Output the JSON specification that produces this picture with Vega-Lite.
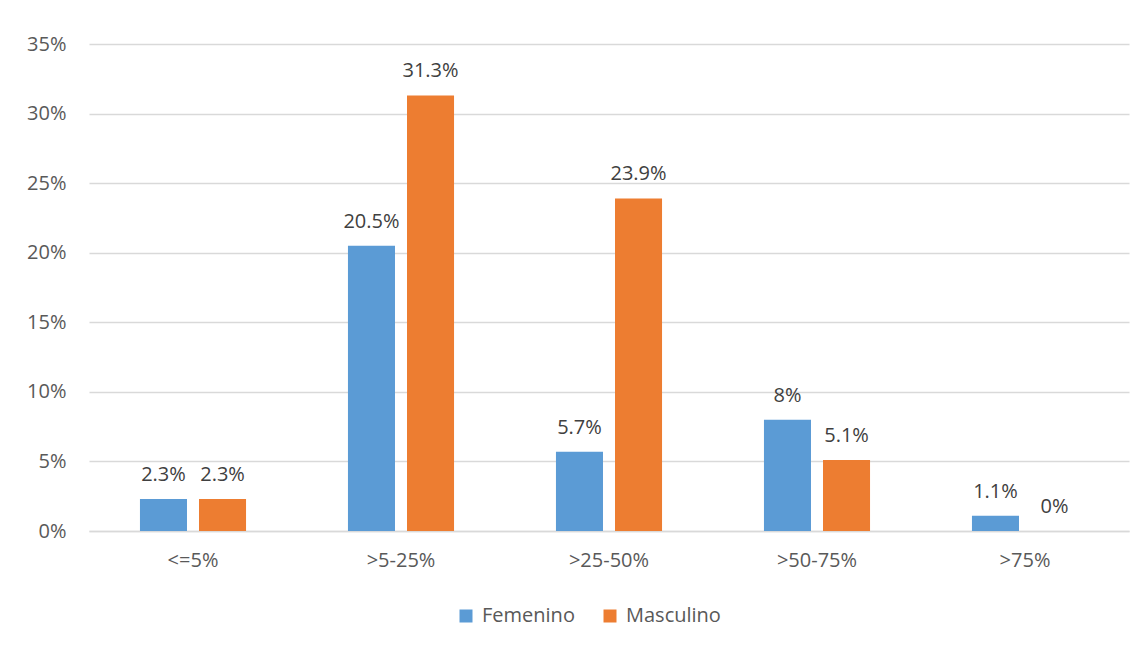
{
  "$schema": "https://vega.github.io/schema/vega-lite/v6.json",
  "autosize": {"type": "none"},
  "width": 1040,
  "height": 487,
  "padding": {"left": 89, "top": 44, "right": 15, "bottom": 115},
  "background": "white",
  "config": {
    "font": "Open Sans",
    "view": {"stroke": null},
    "axis": {"labelFont": "Open Sans", "labelFontSize": 20, "labelColor": "#595959", "ticks": false, "title": null},
    "legend": {"labelFont": "Open Sans", "labelFontSize": 20, "labelColor": "#595959"}
  },
  "data": {
    "values": [
      {"rango": "<=5%", "sexo": "Femenino", "valor": 0.023},
      {"rango": "<=5%", "sexo": "Masculino", "valor": 0.023},
      {"rango": ">5-25%", "sexo": "Femenino", "valor": 0.205},
      {"rango": ">5-25%", "sexo": "Masculino", "valor": 0.313},
      {"rango": ">25-50%", "sexo": "Femenino", "valor": 0.057},
      {"rango": ">25-50%", "sexo": "Masculino", "valor": 0.239},
      {"rango": ">50-75%", "sexo": "Femenino", "valor": 0.08},
      {"rango": ">50-75%", "sexo": "Masculino", "valor": 0.051},
      {"rango": ">75%", "sexo": "Femenino", "valor": 0.011},
      {"rango": ">75%", "sexo": "Masculino", "valor": 0.0}
    ]
  },
  "encoding": {
    "x": {
      "field": "rango", "type": "nominal", "sort": null,
      "scale": {"paddingInner": 0.49, "paddingOuter": 0.245},
      "axis": {"labelAngle": 0, "labelPadding": 19, "domainColor": "#D9D9D9", "domainWidth": 1.5, "grid": false}
    },
    "y": {
      "field": "valor", "type": "quantitative",
      "scale": {"domain": [0, 0.35], "nice": false},
      "axis": {"format": ".0%", "values": [0, 0.05, 0.1, 0.15, 0.2, 0.25, 0.3, 0.35], "domain": false, "gridColor": "#D9D9D9", "gridWidth": 1.5, "labelPadding": 23}
    }
  },
  "layer": [
    {
      "mark": {"type": "bar"},
      "encoding": {
        "xOffset": {"field": "sexo", "type": "nominal", "scale": {"paddingInner": 0.2034, "paddingOuter": 0}},
        "color": {
          "field": "sexo", "type": "nominal",
          "scale": {"domain": ["Femenino", "Masculino"], "range": ["#5B9BD5", "#ED7D31"]},
          "legend": {"orient": "none", "legendX": 367, "legendY": 562, "direction": "horizontal", "title": null, "symbolType": "square", "symbolSize": 169, "symbolStrokeWidth": 0, "columnPadding": 25, "labelOffset": 6}
        }
      }
    },
    {
      "mark": {"type": "text", "baseline": "alphabetic", "dy": -18, "fontSize": 20, "color": "#404040", "font": "Open Sans"},
      "encoding": {
        "xOffset": {"field": "sexo", "type": "nominal", "scale": {"paddingInner": 0.2034, "paddingOuter": 0}},
        "text": {"field": "valor", "type": "quantitative", "format": ".1~%"}
      }
    }
  ]
}
